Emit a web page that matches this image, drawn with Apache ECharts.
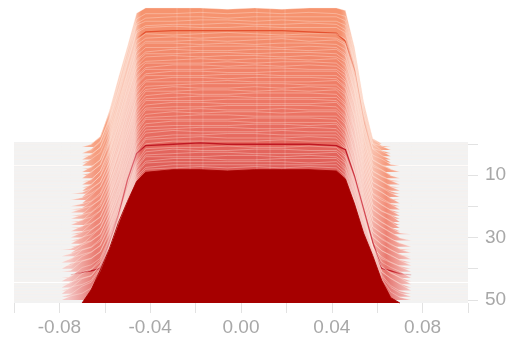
<!DOCTYPE html>
<html><head><meta charset="utf-8">
<style>html,body{margin:0;padding:0;background:#fff}#c{width:513px;height:340px;filter:blur(0.7px)}</style>
<script src="https://cdn.jsdelivr.net/npm/echarts@6/dist/echarts.min.js"></script>
</head><body><div id="c"></div>
<script>
const xValues=[-0.100,-0.079,-0.075,-0.070,-0.066,-0.062,-0.058,-0.054,-0.050,-0.046,-0.042,-0.030,-0.018,-0.006,0.006,0.018,0.030,0.042,0.046,0.050,0.054,0.058,0.062,0.066,0.070,0.075,0.100];
const xTickLabels=[-0.08,-0.04,0,0.04,0.08];
const xTicks=[-0.10,-0.08,-0.06,-0.04,-0.02,0,0.02,0.04,0.06,0.08,0.10];
const yTickLabels=[10,30,50];
const yTicks=[0,10,20,30,40,50];
const ridges=[
[0,0,0,5,25,50,74,99,103,103,103,102,103,102,103,103,101,73,32,4,0,0,0,0],
[0,0,2,8,26,49,74,97,101,101,102,101,102,101,102,101,99,72,31,6,1,0,0,0],
[0,0,0,6,24,50,75,96,100,101,101,100,101,101,101,101,98,72,32,5,3,0,0,0],
[0,0,3,9,25,48,73,97,100,100,101,101,100,101,100,100,97,71,31,7,2,0,0,0],
[0,0,1,7,26,49,72,95,99,100,100,101,100,100,101,100,96,72,33,6,4,0,0,0],
[0,0,4,9,25,48,73,96,100,101,100,100,101,100,100,100,96,73,32,8,3,0,0,0],
[0,0,2,8,24,47,72,94,99,100,100,100,100,100,99,98,92,70,33,7,4,0,0,0],
[0,0,5,10,26,48,71,95,100,99,100,101,100,99,100,100,96,71,32,8,5,1,0,0],
[0,0,1,7,25,47,72,94,99,100,99,100,100,100,100,99,95,72,34,7,3,0,0,0],
[0,0,4,9,24,48,71,93,99,99,100,99,100,101,99,100,96,71,33,9,5,2,0,0],
[0,0,2,8,25,47,71,94,100,100,99,100,99,100,100,99,95,72,34,8,4,0,0,0],
[0,0,5,10,26,46,70,93,99,99,100,100,100,99,100,99,94,71,33,9,6,2,0,0],
[0,0,1,8,24,47,71,92,98,100,99,99,100,100,99,100,95,70,34,8,4,1,0,0],
[0,0,4,10,25,46,70,93,99,99,100,100,99,100,100,99,94,71,35,10,6,3,0,0],
[0,0,2,9,26,47,70,92,99,100,99,100,100,99,100,99,95,72,34,9,5,1,0,0],
[0,0,5,11,25,46,71,93,98,99,100,99,100,100,99,100,94,71,35,11,7,3,0,0],
[0,1,4,9,24,47,70,92,99,99,99,100,99,100,100,99,93,70,34,9,5,2,0,0],
[0,0,6,11,26,46,70,91,98,100,100,99,100,99,100,99,94,71,36,11,7,3,0,0],
[0,2,5,10,25,46,69,92,99,99,99,100,100,100,99,99,94,72,35,10,6,1,0,0],
[0,0,6,12,26,47,70,91,98,100,100,99,99,100,100,100,93,71,36,12,8,4,0,0],
[0,2,4,10,25,46,69,92,99,99,99,100,100,99,99,99,94,70,35,10,6,2,0,0],
[0,1,6,11,26,45,70,91,98,100,100,99,100,100,100,99,93,71,37,12,7,4,0,0],
[0,3,5,10,25,46,69,91,99,99,99,100,99,99,99,100,94,72,36,11,6,2,0,0],
[0,1,7,12,27,47,68,90,98,99,100,100,100,100,99,99,93,71,37,13,8,4,0,0],
[0,3,5,11,26,45,69,91,98,100,99,99,100,99,100,99,94,70,36,11,6,3,0,0],
[0,1,7,12,27,46,68,90,99,99,100,100,99,100,99,100,93,71,38,13,8,5,0,0],
[0,4,6,11,26,46,69,90,98,100,99,99,100,100,100,99,92,72,37,12,7,3,0,0],
[0,1,7,13,27,45,68,91,98,99,100,100,99,99,99,99,93,71,38,14,9,5,0,0],
[0,4,6,11,26,46,69,90,99,99,99,100,100,100,100,99,92,70,37,12,7,3,0,0],
[0,2,8,13,28,46,68,90,98,100,100,99,99,99,99,100,93,71,39,14,9,5,1,0],
[0,4,6,11,27,45,68,90,98,99,99,100,100,100,100,99,92,72,38,13,8,4,0,0],
[0,2,8,13,28,46,68,89,99,99,100,99,99,100,99,99,93,71,39,15,10,6,2,0],
[0,5,7,12,27,46,67,90,98,100,99,100,100,99,100,100,92,70,38,13,8,4,0,0],
[0,2,8,14,28,45,68,89,98,99,100,100,99,99,99,99,93,71,40,15,10,6,3,0],
[1,5,7,12,27,46,67,89,99,99,99,99,100,100,100,99,91,72,39,14,8,4,1,0],
[0,6,9,14,29,46,68,89,98,100,100,100,99,99,99,99,92,71,41,16,11,7,3,0],
[2,5,7,13,28,46,67,89,98,99,99,99,100,100,99,100,91,71,40,15,9,5,1,0],
[0,7,9,14,29,47,67,88,98,99,100,100,99,99,100,99,92,72,42,17,11,7,4,0],
[3,6,8,13,28,46,67,89,98,100,99,99,99,100,99,99,91,70,41,15,9,5,2,0],
[0,7,10,15,29,46,67,88,97,99,99,100,100,99,99,99,92,71,43,18,11,8,4,0],
[4,6,8,13,28,47,66,88,98,99,100,99,99,99,100,99,92,72,42,16,9,5,2,0],
[1,8,10,15,29,46,67,89,97,99,99,99,99,100,99,99,93,73,46,20,10,7,4,0],
[0,2,3,5,25,45,72,92,98,99,100,99,99,99,99,98,95,75,50,25,5,3,1,0],
[1,8,10,15,30,47,68,88,98,99,99,100,99,99,100,99,93,74,47,24,12,8,5,0],
[4,7,9,16,31,48,69,89,98,100,99,99,100,100,99,99,94,74,48,26,11,6,3,0],
[1,8,11,17,32,49,70,89,98,99,100,100,99,99,99,100,93,75,49,28,13,9,5,0],
[4,7,9,17,33,50,71,90,99,99,99,100,100,99,100,99,94,74,50,30,12,7,3,0],
[2,9,11,19,34,52,72,90,98,100,100,99,99,100,100,100,93,75,51,31,14,9,5,0],
[5,7,10,20,36,54,73,91,99,100,100,100,100,100,99,100,94,75,51,33,14,6,2,0],
[2,8,11,21,37,56,74,91,98,100,100,100,100,100,100,100,94,74,52,34,15,7,3,0],
[3,5,9,22,39,58,75,92,99,100,101,100,101,100,101,100,94,75,52,35,16,6,2,0],
[0,0,10,25,41,61,77,92,99,101,101,100,101,101,101,100,94,75,53,36,17,4,0,0]
];
const ridgeUnit=0.423;
const rowColor=t=>echarts.color.lerp(t,['#f6946f','#f38b6c','#f08068','#ec7564','#e66a60','#df5d58']);
const streaks=[0.359,0.388,0.416,0.535,0.564,0.597];
const paleStops=[[0.12,0.65],[0.18,0.12],[0.203,0.12],[0.213,0.5],[0.265,0.5],[0.28,0],[0.72,0],[0.745,0.5],[0.79,0.45],[0.82,0.1],[0.88,0.7]];
streaks.forEach(s=>paleStops.push([s-0.003,0],[s,0.13],[s+0.003,0]));
paleStops.sort((a,b)=>a[0]-b[0]);
const fillFor=base=>({type:'linear',global:true,x:14,y:0,x2:468,y2:0,
  colorStops:paleStops.map(([offset,w])=>({offset,color:echarts.color.lerp(w,[base,'#ffffff'])}))});
const strokeFor=stops=>({type:'linear',global:true,x:14,y:0,x2:468,y2:0,colorStops:stops.map(([offset,color])=>({offset,color}))});
const highlighted={
  6:strokeFor([[0.27,'rgba(228,81,47,0)'],[0.285,'#e4512f'],[0.735,'#e4512f'],[0.755,'rgba(228,81,47,0.25)'],[0.8,'rgba(228,81,47,0)']]),
  42:strokeFor([[0.13,'rgba(191,23,34,0.2)'],[0.17,'#bf1722'],[0.2,'#d8505a'],[0.265,'#dd6670'],[0.285,'#bf1722'],[0.73,'#bf1722'],[0.76,'#d8505a'],[0.8,'#cc3a44'],[0.83,'#bf1722'],[0.86,'rgba(191,23,34,0.2)']])
};
const series=[{type:'line',data:[],z:1,silent:true,markLine:{z:1,silent:true,symbol:'none',label:{show:false},animation:false,lineStyle:{color:'#fff',width:1.2,type:'solid'},data:[{yAxis:6.8},{yAxis:44.5}]}}];
ridges.forEach((heights,row)=>{
  const full=[0,0,...heights,0];
  const last=row===ridges.length-1;
  let points=xValues.map((x,i)=>[x,row-full[i]*ridgeUnit]);
  if(highlighted[row]||last){
    const first=full.findIndex(v=>v>0),end=full.length-1-[...full].reverse().findIndex(v=>v>0);
    points=points.slice(Math.max(first-1,0),end+2);
  }
  series.push({type:'line',z:2,clip:false,symbol:'none',smooth:false,silent:true,animation:false,
    data:points,
    lineStyle:{color:last?'#a60000':(highlighted[row]||'rgba(255,240,232,0.38)'),width:highlighted[row]?1.3:0.9},
    areaStyle:{origin:row,color:last?'#a60000':fillFor(rowColor(row/50)),opacity:1}});
});
const chart=echarts.init(document.getElementById('c'),null,{renderer:'canvas'});
chart.setOption({animation:false,
  grid:{left:14,right:45,top:142,bottom:37,show:true,backgroundColor:'#f2f2f2',borderWidth:0},
  xAxis:{type:'value',min:-0.1,max:0.1,position:'bottom',
    axisLine:{show:false,onZero:false},splitLine:{show:false},
    axisTick:{show:true,length:10,lineStyle:{color:'#e2e2e2'},customValues:xTicks},
    axisLabel:{show:true,color:'#a8a8a8',fontSize:19,fontFamily:'Liberation Sans',margin:15,customValues:xTickLabels,formatter:v=>Number(v).toFixed(2)}},
  yAxis:{type:'value',inverse:true,position:'right',min:-0.6,max:51,
    axisLine:{show:false,onZero:false},splitLine:{show:false},
    axisTick:{show:true,length:10,lineStyle:{color:'#e2e2e2'},customValues:yTicks},
    axisLabel:{show:true,color:'#a8a8a8',fontSize:19,fontFamily:'Liberation Sans',margin:17,customValues:yTickLabels}},
  series});
</script></body></html>
